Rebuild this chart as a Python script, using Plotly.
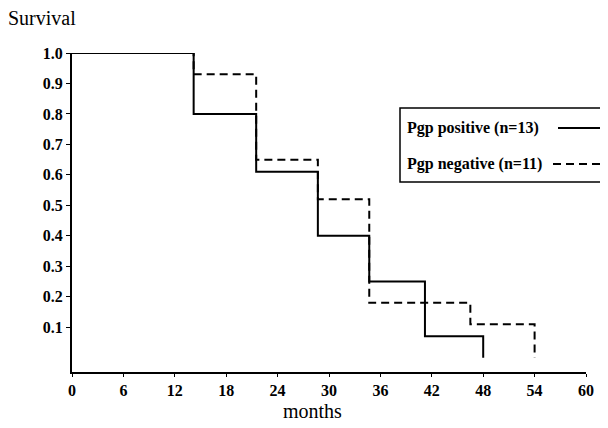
import plotly.graph_objects as go

# ---- data ----
pos_months = [0, 14.2, 21.5, 28.7, 34.7, 41.2, 48]
pos_survival = [1.0, 0.80, 0.61, 0.40, 0.25, 0.07, 0.0]
neg_months = [0, 14.2, 21.5, 28.7, 34.7, 46.5, 54]
neg_survival = [1.0, 0.93, 0.65, 0.52, 0.18, 0.11, 0.0]
x_ticks = [0, 6, 12, 18, 24, 30, 36, 42, 48, 54, 60]
y_ticks = [0.1, 0.2, 0.3, 0.4, 0.5, 0.6, 0.7, 0.8, 0.9, 1.0]
labels = ["Pgp positive (n=13)", "Pgp negative (n=11)"]

# page has an 8px body margin; build the figure so that page pixels match
OFF = 8
PAGE_W, PAGE_H = 608, 428
W, H = PAGE_W - OFF, PAGE_H - OFF
PLOT_L, PLOT_R, PLOT_T, PLOT_B = 72, 586, 53, 372   # page pixels
L, T = PLOT_L - OFF, PLOT_T - OFF
R, B = PAGE_W - PLOT_R, PAGE_H - PLOT_B
PW, PH = PLOT_R - PLOT_L, PLOT_B - PLOT_T

def px(x):
    return (x - PLOT_L) / PW

def py(y):
    return (PLOT_B - y) / PH

SERIF = "Liberation Serif, Times New Roman, serif"

fig = go.Figure()
fig.add_trace(go.Scatter(x=pos_months, y=pos_survival, mode="lines", line_shape="hv",
                         line=dict(color="black", width=2), cliponaxis=False,
                         name=labels[0], showlegend=False))
fig.add_trace(go.Scatter(x=neg_months, y=neg_survival, mode="lines", line_shape="hv",
                         line=dict(color="black", width=2, dash="8px,5px"), cliponaxis=False,
                         name=labels[1], showlegend=False))

tickfont = dict(family=SERIF, size=16, color="black", weight="bold")
fig.update_layout(
    width=W, height=H,
    margin=dict(l=L, r=R, t=T, b=B, pad=0),
    paper_bgcolor="white", plot_bgcolor="white",
    xaxis=dict(range=[0, 60], tickvals=x_ticks, ticktext=[str(v) for v in x_ticks],
               showgrid=False, zeroline=False, showline=True, linecolor="black", linewidth=2,
               ticks="outside", ticklen=3, tickcolor="black", tickwidth=1,
               tickfont=tickfont, fixedrange=True),
    yaxis=dict(range=[-0.047, 1.0], tickvals=y_ticks, ticktext=[f"{v:.1f}" for v in y_ticks],
               showgrid=False, zeroline=False, showline=True, linecolor="black", linewidth=2,
               ticks="outside", ticklen=4, tickcolor="black", tickwidth=1,
               tickfont=tickfont, fixedrange=True),
    showlegend=False,
)

# axis titles
fig.add_annotation(text="Survival", xref="paper", yref="paper", x=px(6), y=py(18),
                   xanchor="left", yanchor="middle", showarrow=False,
                   font=dict(family=SERIF, size=20, color="black"))
fig.add_annotation(text="months", xref="paper", yref="paper", x=px(312), y=py(411),
                   xanchor="center", yanchor="middle", showarrow=False,
                   font=dict(family=SERIF, size=20, color="black"))

# legend box (text on the left, line sample on the right)
fig.add_shape(type="rect", xref="paper", yref="paper", x0=px(400), x1=px(615),
              y0=py(182), y1=py(108), line=dict(color="black", width=1.5))
legfont = dict(family=SERIF, size=16, color="black", weight="bold")
rows = [(128, "solid", 558), (164, "8px,5px", 553)]
for (yy, dash, xs), lab in zip(rows, labels):
    fig.add_annotation(text=lab, xref="paper", yref="paper", x=px(405), y=py(yy),
                       xanchor="left", yanchor="middle", showarrow=False, font=legfont)
    fig.add_shape(type="line", xref="paper", yref="paper", x0=px(xs), x1=px(600),
                  y0=py(yy), y1=py(yy), line=dict(color="black", width=2, dash=dash))

fig.write_html("out.html")
